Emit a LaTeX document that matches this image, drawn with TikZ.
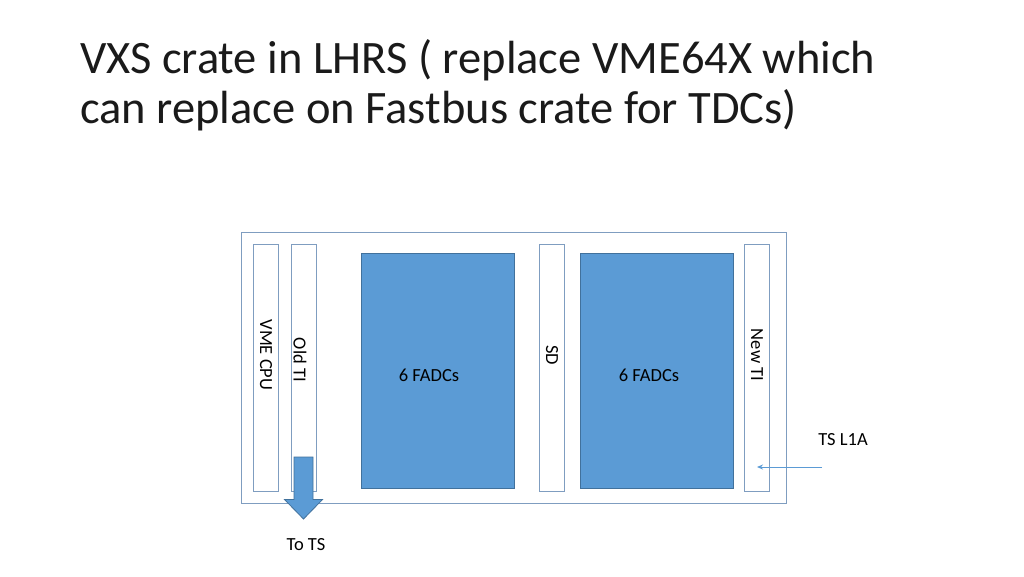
\documentclass[tikz,border=0pt]{standalone}
\usepackage{fontspec}
\setmainfont{Carlito}
\usetikzlibrary{arrows.meta,shapes.arrows}
\definecolor{slotline}{HTML}{7F9DC0}
\definecolor{fadcfill}{HTML}{5B9BD5}
\definecolor{fadcline}{HTML}{41719C}
\definecolor{titlecol}{HTML}{1A1A1A}
\begin{document}
\begin{tikzpicture}[x=1pt,y=-1pt,
  slot/.style={draw=slotline,line width=1pt,fill=white,minimum width=25pt,minimum height=247pt,inner sep=0pt},
  fadc/.style={draw=fadcline,line width=0.8pt,fill=fadcfill,minimum width=153pt,minimum height=235pt,inner sep=0pt},
  lbl/.style={font=\fontsize{18.5}{22}\selectfont,inner sep=0pt},
  vlbl/.style={lbl,rotate=-90}]
\useasboundingbox (0,0) rectangle (1024,576);
\fill[white] (0,0) rectangle (1024,576);
\node[anchor=base west,font=\fontsize{46.5}{50}\selectfont,text=titlecol,align=left,inner sep=0pt] (title) at (80,123)
  {VXS crate in LHRS ( replace VME64X which\\can replace on Fastbus crate for TDCs)};
\node[draw=slotline,line width=1pt,minimum width=545pt,minimum height=271pt,inner sep=0pt] (crate) at (513.5,367.5) {};
\node[slot] (cpu) at (266,367.5) {};
\node[slot] (oldti) at (303.5,367.5) {};
\node[fadc] (fadc1) at (437.5,370.5) {};
\node[slot] (sd) at (551.5,367.5) {};
\node[fadc] (fadc2) at (656.5,370.5) {};
\node[slot] (newti) at (756.5,367.5) {};
\node[vlbl] at (266,355) {VME CPU};
\node[vlbl] at (300,360) {Old TI};
\node[vlbl] at (552,355) {SD};
\node[vlbl] at (757,355) {New TI};
\node[lbl] (f1) at (429,375) {6 FADCs};
\node[lbl] (f2) at (649,375) {6 FADCs};
\node[lbl] (tots) at (306,545) {To TS};
\node[lbl] (tsl1a) at (843,440) {TS L1A};
\coordinate (src) at (822,467);
\coordinate (dst) at (757,467);
\draw[fadcfill,line width=1pt,-{Stealth[length=6pt,width=5pt]}] (src) -- (dst);
\draw[fadcline,line width=0.8pt,fill=fadcfill] (294,457) -- (313,457) -- (313,499.5) -- (322.5,499.5) -- (303.5,519) -- (284.5,499.5) -- (294,499.5) -- cycle;
\end{tikzpicture}
\end{document}
